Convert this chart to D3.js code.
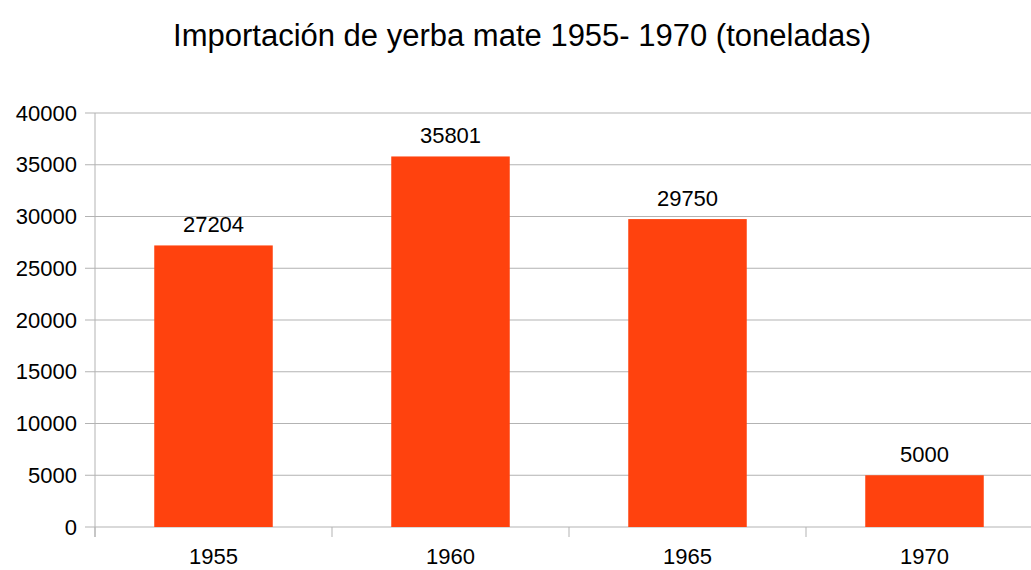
<!DOCTYPE html>
<html>
<head>
<meta charset="utf-8">
<script src="https://cdn.jsdelivr.net/npm/d3@7"></script>
<style>
  body { margin: 0; background: #fff; }
  svg { display: block; font-family: "Liberation Sans", Arial, sans-serif; }
</style>
</head>
<body>
<div id="chart"></div>
<script>
const years = ['1955', '1960', '1965', '1970'];
const tonnes = [27204, 35801, 29750, 5000];
const yTicks = [0, 5000, 10000, 15000, 20000, 25000, 30000, 35000, 40000];
const title = 'Importación de yerba mate 1955- 1970 (toneladas)';

const width = 1031;
const height = 570;
const margin = { top: 113, right: -12, bottom: 43, left: 95 };
const innerWidth = width - margin.left - margin.right;
const innerHeight = height - margin.top - margin.bottom;

const svg = d3.select('#chart')
  .append('svg')
  .attr('width', width)
  .attr('height', height);

svg.append('text')
  .attr('x', 522)
  .attr('y', 46)
  .attr('text-anchor', 'middle')
  .style('font-size', '31px')
  .style('fill', '#000')
  .text(title);

const g = svg.append('g')
  .attr('transform', `translate(${margin.left}, ${margin.top})`);

const xScale = d3.scaleBand()
  .domain(years)
  .range([0, innerWidth])
  .paddingInner(0.5)
  .paddingOuter(0.25);

const yScale = d3.scaleLinear()
  .domain([0, 40000])
  .range([innerHeight, 0]);

// horizontal grid, clipped at the right edge of the picture
g.append('g')
  .selectAll('line')
  .data(yTicks)
  .enter().append('line')
  .attr('x1', -10)
  .attr('x2', width - margin.left)
  .attr('y1', d => yScale(d))
  .attr('y2', d => yScale(d))
  .attr('stroke', '#b3b3b3')
  .attr('stroke-width', 1);

// y axis
const yAxis = d3.axisLeft(yScale)
  .tickValues(yTicks)
  .tickFormat(d3.format('d'))
  .tickSize(0)
  .tickPadding(18);
const gY = g.append('g').call(yAxis);
gY.select('.domain').remove();
gY.selectAll('text')
  .style('font-family', '"Liberation Sans", Arial, sans-serif')
  .style('font-size', '22px')
  .style('fill', '#000');

g.append('line')
  .attr('x1', 0).attr('x2', 0)
  .attr('y1', 0).attr('y2', innerHeight + 10)
  .attr('stroke', '#b3b3b3');

// x axis: separators between categories
const step = xScale.step();
const seps = years.map((d, i) => i * step);
g.append('g')
  .selectAll('line')
  .data(seps)
  .enter().append('line')
  .attr('x1', d => d).attr('x2', d => d)
  .attr('y1', innerHeight).attr('y2', innerHeight + 10)
  .attr('stroke', '#b3b3b3');

g.append('g')
  .selectAll('text')
  .data(years)
  .enter().append('text')
  .attr('x', d => xScale(d) + xScale.bandwidth() / 2)
  .attr('y', innerHeight + 37)
  .attr('text-anchor', 'middle')
  .style('font-size', '22px')
  .text(d => d);

// bars
const data = years.map((y, i) => ({ year: y, value: tonnes[i] }));

g.selectAll('rect.bar').data(data)
  .enter().append('rect')
  .attr('class', 'bar')
  .attr('x', d => xScale(d.year))
  .attr('y', d => yScale(d.value))
  .attr('width', xScale.bandwidth())
  .attr('height', d => innerHeight - yScale(d.value))
  .attr('fill', '#ff420e');

g.selectAll('text.val').data(data)
  .enter().append('text')
  .attr('class', 'val')
  .attr('x', d => xScale(d.year) + xScale.bandwidth() / 2)
  .attr('y', d => yScale(d.value) - 13)
  .attr('text-anchor', 'middle')
  .style('font-size', '22px')
  .text(d => d.value);
</script>
</body>
</html>
